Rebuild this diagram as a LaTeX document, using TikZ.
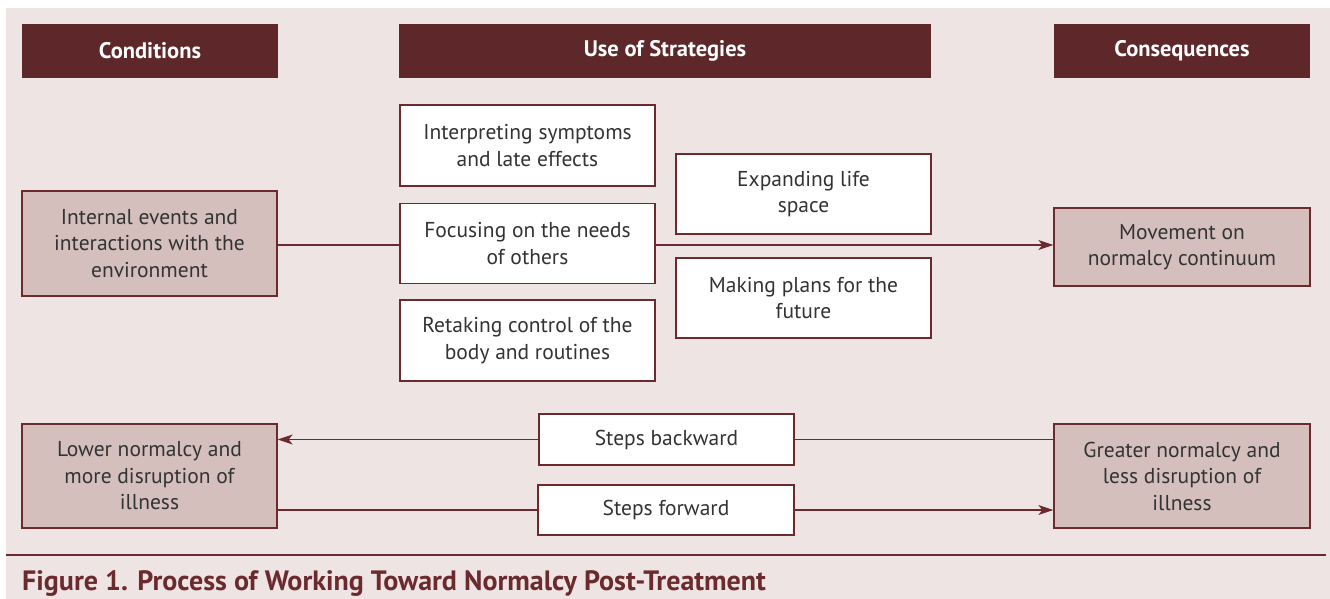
\documentclass[tikz,border=0pt]{standalone}
\usepackage{fontspec}
\setmainfont{PT Sans}
\usetikzlibrary{arrows.meta}
\definecolor{hdr}{HTML}{5E282B}
\definecolor{boxfill}{HTML}{D4BFBD}
\definecolor{bg}{HTML}{EEE4E3}
\definecolor{ln}{HTML}{6B2A2E}
\definecolor{txt}{HTML}{333333}
\begin{document}
\begin{tikzpicture}[x=1pt,y=-1pt,
  hdrbox/.style={fill=hdr,draw=none,text=white,font=\fontsize{22.5}{26}\selectfont\bfseries,minimum height=54pt,inner sep=0pt},
  condbox/.style={fill=boxfill,draw=ln,line width=1.3pt,text=txt,font=\fontsize{21.5}{26.5}\selectfont,align=center,inner sep=0pt},
  stratbox/.style={fill=white,draw=ln,line width=1.3pt,text=txt,font=\fontsize{21.5}{26.5}\selectfont,align=center,inner sep=0pt},
  conn/.style={draw=ln,line width=1.3pt},
  arr/.style={conn,-{Stealth[length=15pt,width=10pt,inset=4pt]}}
]
\useasboundingbox (0,0) rectangle (1330,599);
\fill[white] (0,0) rectangle (1330,599);
\fill[bg] (6,8) rectangle (1330,599);
% headers
\node[hdrbox,minimum width=256pt] (hcond) at (150,51) {Conditions};
\node[hdrbox,minimum width=532pt] (hstrat) at (665,51) {Use of Strategies};
\node[hdrbox,minimum width=256pt] (hcons) at (1182,51) {Consequences};
% boxes
\node[condbox,minimum width=255pt,minimum height=105pt] (internal) at (149.5,243.5) {Internal events and\\interactions with the\\environment};
\node[stratbox,minimum width=255pt,minimum height=81pt] (interp) at (527.5,145.5) {Interpreting symptoms\\and late effects};
\node[stratbox,minimum width=255pt,minimum height=80pt] (focus) at (527.5,243.5) {Focusing on the needs\\of others};
\node[stratbox,minimum width=255pt,minimum height=81pt] (retake) at (527.5,340.5) {Retaking control of the\\body and routines};
\node[stratbox,minimum width=255pt,minimum height=80pt] (expand) at (803.5,194) {Expanding life\\space};
\node[stratbox,minimum width=255pt,minimum height=80pt] (plans) at (803.5,298) {Making plans for the\\future};
\node[condbox,minimum width=256pt,minimum height=78pt] (move) at (1182,247) {Movement on\\normalcy continuum};
\node[condbox,minimum width=255pt,minimum height=104pt] (lower) at (149.5,476) {Lower normalcy and\\more disruption of\\illness};
\node[stratbox,minimum width=255pt,minimum height=51pt] (back) at (666.5,439.5) {Steps backward};
\node[stratbox,minimum width=256pt,minimum height=50pt] (fwd) at (666,510) {Steps forward};
\node[condbox,minimum width=256pt,minimum height=104pt] (greater) at (1182,476) {Greater normalcy and\\less disruption of\\illness};
% connectors
\coordinate (m) at (0,245);
\draw[conn] (internal.east |- m) -- (focus.west |- m);
\draw[arr] (focus.east |- m) -- (move.west |- m);
\draw[conn] (greater.west |- back.east) -- (back.east);
\draw[arr] (back.west) -- (back.west -| lower.east);
\draw[conn] (lower.east |- fwd.west) -- (fwd.west);
\draw[arr] (fwd.east) -- (fwd.east -| greater.west);
% separator and caption
\coordinate (s1) at (6,555);
\coordinate (s2) at (1326,555);
\draw[draw=ln,line width=2.2pt] (s1) -- (s2);
\node[anchor=base west,inner sep=0pt,text=ln,font=\fontsize{28}{32}\selectfont\bfseries] (cap) at (22,590) {Figure 1. Process of Working Toward Normalcy Post-Treatment};
\end{tikzpicture}
\end{document}
